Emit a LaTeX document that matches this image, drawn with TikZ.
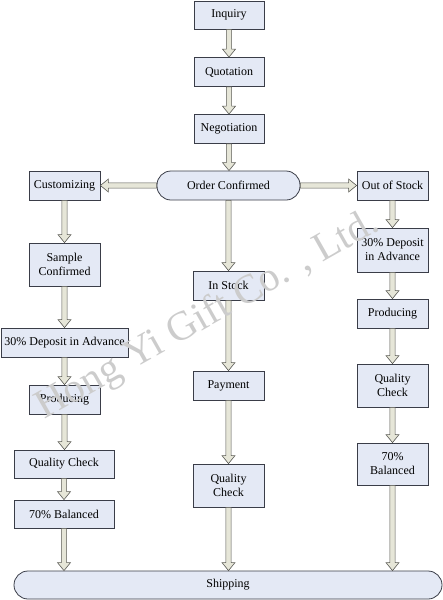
\documentclass[tikz,border=0pt]{standalone}
\usepackage{fontspec}
\setmainfont{Liberation Serif}
\usepackage{tikz}
\usetikzlibrary{positioning, calc}

\definecolor{boxfill}{HTML}{E4E9F5}
\definecolor{boxline}{HTML}{3A3D48}
\definecolor{arrowfill}{HTML}{E6E6D8}
\definecolor{arrowline}{HTML}{5A5A55}

\tikzset{
    box/.style={draw=boxline, fill=boxfill, line width=0.8pt, align=center,
        inner sep=1pt, font=\fontsize{12}{14}\selectfont},
    roundbox/.style={box, rounded corners=14pt},
    blockarrow/.style={draw=arrowline, fill=arrowfill, line width=0.6pt, line join=miter},
}

% hollow block arrow from #1 to #2
\newcommand{\blockarrow}[2]{%
    \coordinate (ba-s) at (#1);
    \coordinate (ba-e) at (#2);
    \coordinate (ba-h) at ($(ba-e)!8pt!(ba-s)$);
    \filldraw[blockarrow] ($(ba-s)!2.6pt!90:(ba-e)$) -- ($(ba-h)!2.6pt!-90:(ba-s)$)
        -- ($(ba-h)!6.5pt!-90:(ba-s)$) -- (ba-e) -- ($(ba-h)!6.5pt!90:(ba-s)$)
        -- ($(ba-h)!2.6pt!90:(ba-s)$) -- ($(ba-s)!2.6pt!-90:(ba-e)$) -- cycle;
}

\begin{document}
\begin{tikzpicture}[x=1pt, y=-1pt]
            \useasboundingbox (0,0) rectangle (443,600);
            % middle column
            \node[box, minimum width=70pt, minimum height=28pt] (inquiry) at (229,15) {Inquiry};
            \node[box, minimum width=70pt, minimum height=29pt] (quotation) at (229,72) {Quotation};
            \node[box, minimum width=70pt, minimum height=29pt] (negotiation) at (229,129) {Negotiation};
            \node[roundbox, minimum width=143pt, minimum height=29pt] (order) at (228.5,185.5) {Order Confirmed};
            \node[box, minimum width=71pt, minimum height=29pt] (instock) at (228.5,285.5) {In Stock};
            \node[box, minimum width=71pt, minimum height=29pt] (payment) at (228.5,385.5) {Payment};
            \node[box, minimum width=71pt, minimum height=43pt] (qcmid) at (228.5,485.5) {Quality\\Check};
            % left column
            \node[box, minimum width=71pt, minimum height=29pt] (custom) at (64.5,185.5) {Customizing};
            \node[box, minimum width=71pt, minimum height=43pt] (sample) at (64.5,264.5) {Sample\\Confirmed};
            \node[box, minimum width=127pt, minimum height=29pt] (depleft) at (64.5,342.5) {30\% Deposit in Advance};
            \node[box, minimum width=71pt, minimum height=29pt] (prodleft) at (64.5,399.5) {Producing};
            \node[box, minimum width=100pt, minimum height=28pt] (qcleft) at (64,464) {Quality Check};
            \node[box, minimum width=100pt, minimum height=28pt] (balleft) at (64,514) {70\% Balanced};
            % right column
            \node[box, minimum width=71pt, minimum height=29pt] (outstock) at (392.5,185.5) {Out of Stock};
            \node[box, minimum width=71pt, minimum height=44pt] (depright) at (392.5,250) {30\% Deposit\\in Advance};
            \node[box, minimum width=71pt, minimum height=29pt] (prodright) at (392.5,313.5) {Producing};
            \node[box, minimum width=71pt, minimum height=43pt] (qcright) at (392.5,385.5) {Quality\\Check};
            \node[box, minimum width=71pt, minimum height=42pt] (balright) at (392.5,464) {70\%\\Balanced};
            % bottom
            \node[roundbox, minimum width=428pt, minimum height=28pt] (shipping) at (228,585) {Shipping};

            \foreach \a/\b in {inquiry/quotation, quotation/negotiation, negotiation/order,
                order/instock, instock/payment, payment/qcmid, qcmid/shipping,
                custom/sample, sample/depleft, depleft/prodleft, prodleft/qcleft, qcleft/balleft,
                outstock/depright, depright/prodright, prodright/qcright, qcright/balright}{
                \blockarrow{\a.south}{\a.south |- \b.north}
            }
            \blockarrow{balleft.south}{balleft.south |- shipping.north}
            \blockarrow{balright.south}{balright.south |- shipping.north}
            \blockarrow{order.west}{custom.east}
            \blockarrow{order.east}{outstock.west}

            % watermark
            \node[rotate=29.5, text=black!20, font=\fontsize{41}{41}\selectfont] (mark) at (208,316) {Hong Yi Gift Co. , Ltd.};
\end{tikzpicture}
\end{document}
